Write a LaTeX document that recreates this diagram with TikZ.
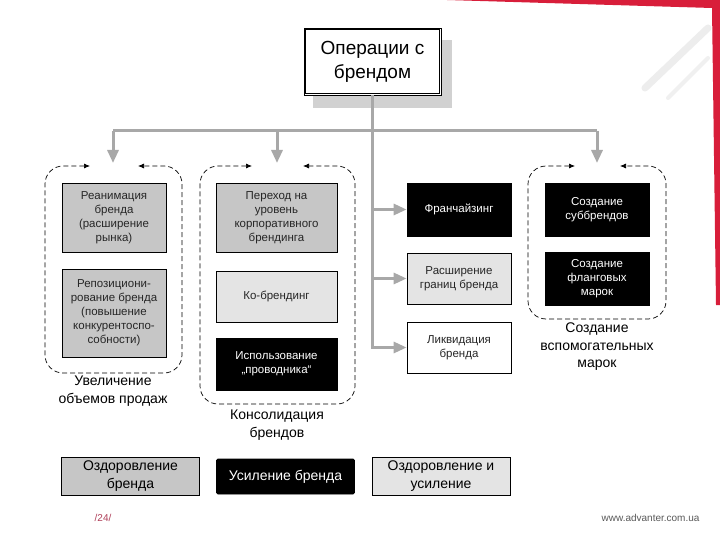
\documentclass[tikz,border=0pt]{standalone}
\usepackage{fontspec}
\setmainfont{Liberation Sans}
\usetikzlibrary{arrows.meta}
\definecolor{midgray}{HTML}{C6C6C6}
\definecolor{lightgray2}{HTML}{E4E4E4}
\definecolor{conngray}{HTML}{A8A8A8}
\definecolor{framered}{HTML}{D81E3A}
\definecolor{pagenum}{HTML}{B0405A}
\tikzset{
  box/.style={draw=black, line width=0.8pt, align=center, inner sep=2pt,
              font=\fontsize{11.5}{14}\selectfont, text=black!85},
  graybox/.style={box, fill=midgray},
  lightbox/.style={box, fill=lightgray2},
  whitebox/.style={box, fill=white},
  blackbox/.style={box, fill=black, text=white},
  conn/.style={draw=conngray, line width=3pt, -{Triangle[length=13pt,width=11pt]}},
  connline/.style={draw=conngray, line width=3pt},
  grp/.style={draw=black, line width=0.7pt, dash pattern=on 5pt off 3pt,
              rounded corners=18pt, {Latex[length=6pt,width=5pt]}-{Latex[length=6pt,width=5pt]}},
  grplabel/.style={align=center, font=\fontsize{14}{17.5}\selectfont},
  legend/.style={draw=black, line width=0.8pt, align=center, minimum width=138pt,
                 minimum height=35pt, font=\fontsize{14}{18}\selectfont}
}
\begin{document}
\begin{tikzpicture}[x=1pt,y=-1pt]
\useasboundingbox (0,0) rectangle (720,540);
\fill[white] (0,0) rectangle (720,540);
% decorative frame
\fill[framered] (447,0) -- (720,0) -- (720,305) -- (716,305) -- (712,8) -- cycle;
\draw[black!7, line width=7pt, line cap=round] (645,88) -- (708,28);
\draw[black!6, line width=4pt, line cap=round] (668,98) -- (708,58);
% central node with shadow
\fill[black!18] (313,40) rectangle (452,108);
\node[draw=black, fill=white, line width=0.7pt,
      minimum width=137pt, minimum height=67pt, align=center,
      font=\fontsize{19}{24}\selectfont] (op) at (372.5,61.5) {Операции с\\брендом};
\draw[black, line width=0.6pt] ([shift={(2pt,-2pt)}]op.north west) rectangle ([shift={(-2pt,2pt)}]op.south east);
% group 1
\node[graybox, minimum width=104pt, minimum height=69pt] (b1) at (114,217.5)
  {Реанимация\\бренда\\(расширение\\рынка)};
\node[graybox, minimum width=104pt, minimum height=88pt] (b2) at (114,313)
  {Репозициони-\\рование бренда\\(повышение\\конкурентоспо-\\собности)};
% group 2
\node[graybox, minimum width=121pt, minimum height=69pt] (c1) at (276.5,217.5)
  {Переход на\\уровень\\корпоративного\\брендинга};
\node[lightbox, minimum width=121pt, minimum height=51pt] (c2) at (276.5,296.5)
  {Ко-брендинг};
\node[blackbox, minimum width=121pt, minimum height=52pt] (c3) at (276.5,364)
  {Использование\\„проводника“};
% middle column
\node[blackbox, minimum width=104pt, minimum height=53pt] (m1) at (459,209.5)
  {Франчайзинг};
\node[lightbox, minimum width=104pt, minimum height=51pt] (m2) at (459,278.5)
  {Расширение\\границ бренда};
\node[whitebox, minimum width=104pt, minimum height=51pt] (m3) at (459,347.5)
  {Ликвидация\\бренда};
% group 3
\node[blackbox, minimum width=104pt, minimum height=53pt] (s1) at (597,209.5)
  {Создание\\суббрендов};
\node[blackbox, minimum width=104pt, minimum height=53pt] (s2) at (597,278.5)
  {Создание\\фланговых\\марок};
% group frames
\draw[grp] (90,166) -- (45,166) -- (45,373) -- (182,373) -- (182,166) -- (138,166);
\draw[grp] (252,166) -- (200,166) -- (200,404) -- (355,404) -- (355,166) -- (303,166);
\draw[grp] (575,166) -- (528,166) -- (528,319) -- (666,319) -- (666,166) -- (620,166);
% group labels
\node[grplabel] (gl1) at (113,391) {Увеличение\\объемов продаж};
\node[grplabel] (gl2) at (277,425) {Консолидация\\брендов};
\node[grplabel] (gl3) at (597,347) {Создание\\вспомогательных\\марок};
% connectors
\coordinate (hb) at (372,131);
\coordinate (a1) at (113,163);
\coordinate (a2) at (277,163);
\coordinate (a3) at (597,163);
\draw[connline] (a1 |- hb) -- (a3 |- hb);
\draw[conn] (a1 |- hb) -- (a1);
\draw[conn] (a2 |- hb) -- (a2);
\draw[conn] (a3 |- hb) -- (a3);
\draw[conn] (op.south) |- (m3.west);
\draw[conn] (op.south |- m1.west) -- (m1.west);
\draw[conn] (op.south |- m2.west) -- (m2.west);
% legend
\node[legend, fill=midgray] (l1) at (130.5,476.5) {Оздоровление\\бренда};
\node[legend, fill=black, text=white, rounded corners=1.5pt] (l2) at (285.5,476.5) {Усиление бренда};
\node[legend, fill=lightgray2] (l3) at (441,476.5) {Оздоровление и\\усиление};
% footer
\node[text=pagenum, font=\fontsize{10}{12}\selectfont] (pg) at (103,518) {/24/};
\node[anchor=east, text=black!65, font=\fontsize{10}{12}\selectfont] (www) at (703,518) {www.advanter.com.ua};
\end{tikzpicture}
\end{document}
